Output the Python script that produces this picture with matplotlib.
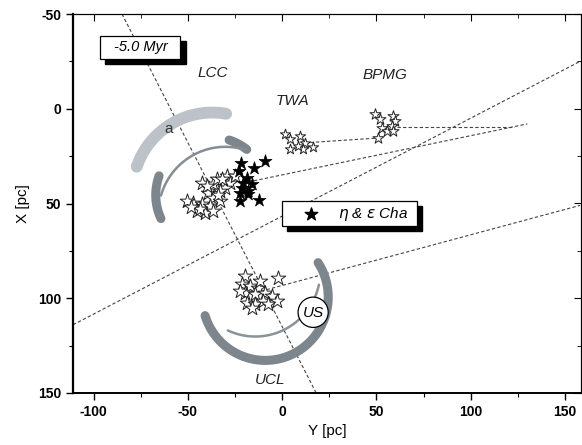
import numpy as np
import matplotlib.pyplot as plt
from matplotlib.patches import Rectangle, Circle

plt.rcParams['font.family'] = ['Liberation Sans', 'DejaVu Sans']
plt.rcParams['axes.unicode_minus'] = False

# star positions (Y, X) in pc
lcc_y = [-42.4, -36.6, -34.5, -29.2, -27.6, -30.2, -32.9, -39.3, -36.6, -47.2, -42.4,
         -38.2, -32.9, -40.8, -45.1, -36.6, -50.4, -43.5, -31.8, -24.9, -39.8, -34.0, -48.5]
lcc_x = [39.2, 39.7, 37.0, 35.4, 39.2, 41.8, 43.4, 44.4, 47.1, 49.7, 50.3,
         51.3, 48.7, 55.0, 54.0, 54.0, 48.7, 52.9, 37.0, 35.4, 40.7, 45.5, 52.0]
cha_y = [-9.0, -14.9, -21.8, -22.8, -18.6, -20.7, -15.9, -21.2, -18.0, -22.3, -22.3, -18.0, -12.2]
cha_x = [27.5, 31.2, 28.6, 32.8, 36.5, 39.2, 39.7, 41.8, 43.4, 44.4, 48.7, 45.0, 48.1]
ucl_y = [-19.6, -2.1, -21.2, -17.0, -12.7, -19.6, -14.3, -9.0, -5.3, -18.6, -14.3,
         -10.1, -2.7, -7.4, -15.9, -22.3, -11.7]
ucl_x = [88.4, 89.4, 92.6, 93.7, 94.7, 97.4, 97.9, 97.4, 98.9, 102.6, 103.2,
         101.6, 101.6, 103.2, 105.3, 96.3, 91.0]
twa_y = [1.6, 4.2, 9.5, 12.2, 4.2, 11.1, 16.4, 8.5]
twa_x = [13.2, 15.9, 14.3, 18.0, 21.2, 21.2, 20.1, 19.6]
bpmg_y = [49.3, 52.0, 58.9, 60.0, 53.1, 58.4, 55.7, 50.9, 58.9]
bpmg_x = [2.6, 5.3, 3.7, 6.3, 10.1, 9.0, 11.6, 15.3, 11.6]

# trajectories: (Y start, X start, Y end, X end)
tracks = [(-85, -50, 18, 150),
          (-111, 114, 158, -25),
          (-14, 97, 158, 51),
          (-15, 38, 130, 8),
          (12, 18, 50, 15.5),
          (61, 9.5, 123, 9.5)]

# rotation arcs: centre (Y, X), radius, angle range (deg), colour, width
arcs = [((-37.1, 44.4), 42.4, 80, 161, '#bcc2c7', 8.5),
        ((-37.6, 45.5), 30.5, 52, 72, '#7d868d', 6.5),
        ((-37.6, 45.5), 29.5, 160, 205, '#7d868d', 6.5),
        ((-30.2, 55.6), 35.5, 73, 164, '#858e95', 1.8),
        ((-9.0, 99.4), 33.4, -163, 33, '#7d868d', 6.5),
        ((-14.3, 85.7), 34.5, -115, -12, '#8a939a', 1.8)]

labels = [('LCC', -37, -19), ('TWA', 5.3, -4.2), ('BPMG', 54.6, -18), ('UCL', -6.4, 143)]

fig = plt.figure(figsize=(5.82, 4.45), dpi=100)
ax = fig.add_axes([73 / 582, 1 - 393 / 445, 508 / 582, 379 / 445])

for y0, x0, y1, x1 in tracks:
    ax.plot([y0, y1], [x0, x1], ls=(0, (3, 2)), color='#444444', lw=0.8, zorder=1)

for (cy, cx), r, a0, a1, col, w in arcs:
    t = np.radians(np.linspace(a0, a1, 60))
    ax.plot(cy + r * np.cos(t), cx - r * np.sin(t), color=col, lw=w,
            solid_capstyle='round', zorder=2)

ax.text(-60.5, 10.5, 'a', fontsize=11, ha='center', va='center', color='#333333', zorder=3)

ax.scatter(lcc_y, lcc_x, marker='*', s=120, facecolor='white', edgecolor='#222222', lw=0.7, zorder=4)
ax.scatter(ucl_y, ucl_x, marker='*', s=120, facecolor='white', edgecolor='#222222', lw=0.7, zorder=4)
ax.scatter(twa_y, twa_x, marker='*', s=60, facecolor='white', edgecolor='#222222', lw=0.7, zorder=4)
ax.scatter(bpmg_y, bpmg_x, marker='*', s=70, facecolor='white', edgecolor='#222222', lw=0.7, zorder=4)
ax.scatter(cha_y, cha_x, marker='*', s=95, facecolor='black', edgecolor='black', lw=0.5, zorder=5)

for txt, y, x in labels:
    ax.text(y, x, txt, fontsize=11, style='italic', ha='center', va='center', color='#222222')

# US circle
ax.add_patch(Circle((16.4, 107.4), 8.0, facecolor='white', edgecolor='black', lw=0.9, zorder=6))
ax.text(16.4, 107.6, 'US', fontsize=11, style='italic', ha='center', va='center', zorder=7)

# time box with shadow
ax.add_patch(Rectangle((-93.8, -36.0), 42.5, 12.2, facecolor='black', edgecolor='black', zorder=6))
ax.add_patch(Rectangle((-96.5, -38.6), 42.5, 12.2, facecolor='white', edgecolor='black', lw=0.9, zorder=7))
ax.text(-75.2, -32.5, '-5.0 Myr', fontsize=10.5, style='italic', ha='center', va='center', zorder=8)

# legend box with shadow
ax.add_patch(Rectangle((2.7, 51.3), 71.6, 13.3, facecolor='black', edgecolor='black', zorder=6))
ax.add_patch(Rectangle((0, 48.7), 71.6, 13.3, facecolor='white', edgecolor='black', lw=0.9, zorder=7))
ax.scatter([15.4], [55.4], marker='*', s=90, color='black', zorder=8)
ax.text(29.5, 55.6, r'$\eta$ & $\varepsilon$ Cha', fontsize=11, style='italic',
        ha='left', va='center', zorder=8)

xmaj = [-100, -50, 0, 50, 100, 150]
xmin = np.arange(-100, 151, 25)
ymaj = [-50, 0, 50, 100, 150]
ymin = np.arange(-50, 151, 25)

ax.set_xlim(-111, 158.5)
ax.set_ylim(150, -50)
ax.set_xticks(xmaj)
ax.set_xticks(xmin, minor=True)
ax.set_yticks(ymaj)
ax.set_yticks(ymin, minor=True)
ax.tick_params(which='both', direction='out')
ax.tick_params(which='major', length=5, width=1.0, labelsize=10)
ax.tick_params(which='minor', length=3, width=0.8)
for lab in ax.get_xticklabels() + ax.get_yticklabels():
    lab.set_fontweight('bold')

# inward ticks on top and right
top = ax.secondary_xaxis('top')
top.set_xticks(xmaj)
top.set_xticks(xmin, minor=True)
top.tick_params(which='both', direction='in', labeltop=False)
top.tick_params(which='major', length=5)
top.tick_params(which='minor', length=3)
right = ax.secondary_yaxis('right')
right.set_yticks(ymaj)
right.set_yticks(ymin, minor=True)
right.tick_params(which='both', direction='in', labelright=False)
right.tick_params(which='major', length=5)
right.tick_params(which='minor', length=3)

ax.spines['left'].set_linewidth(1.6)
ax.spines['bottom'].set_linewidth(1.4)

ax.set_xlabel('Y [pc]', fontsize=11, labelpad=4)
ax.set_ylabel('X [pc]', fontsize=11, labelpad=6)

fig.savefig('out.png', dpi=100)
